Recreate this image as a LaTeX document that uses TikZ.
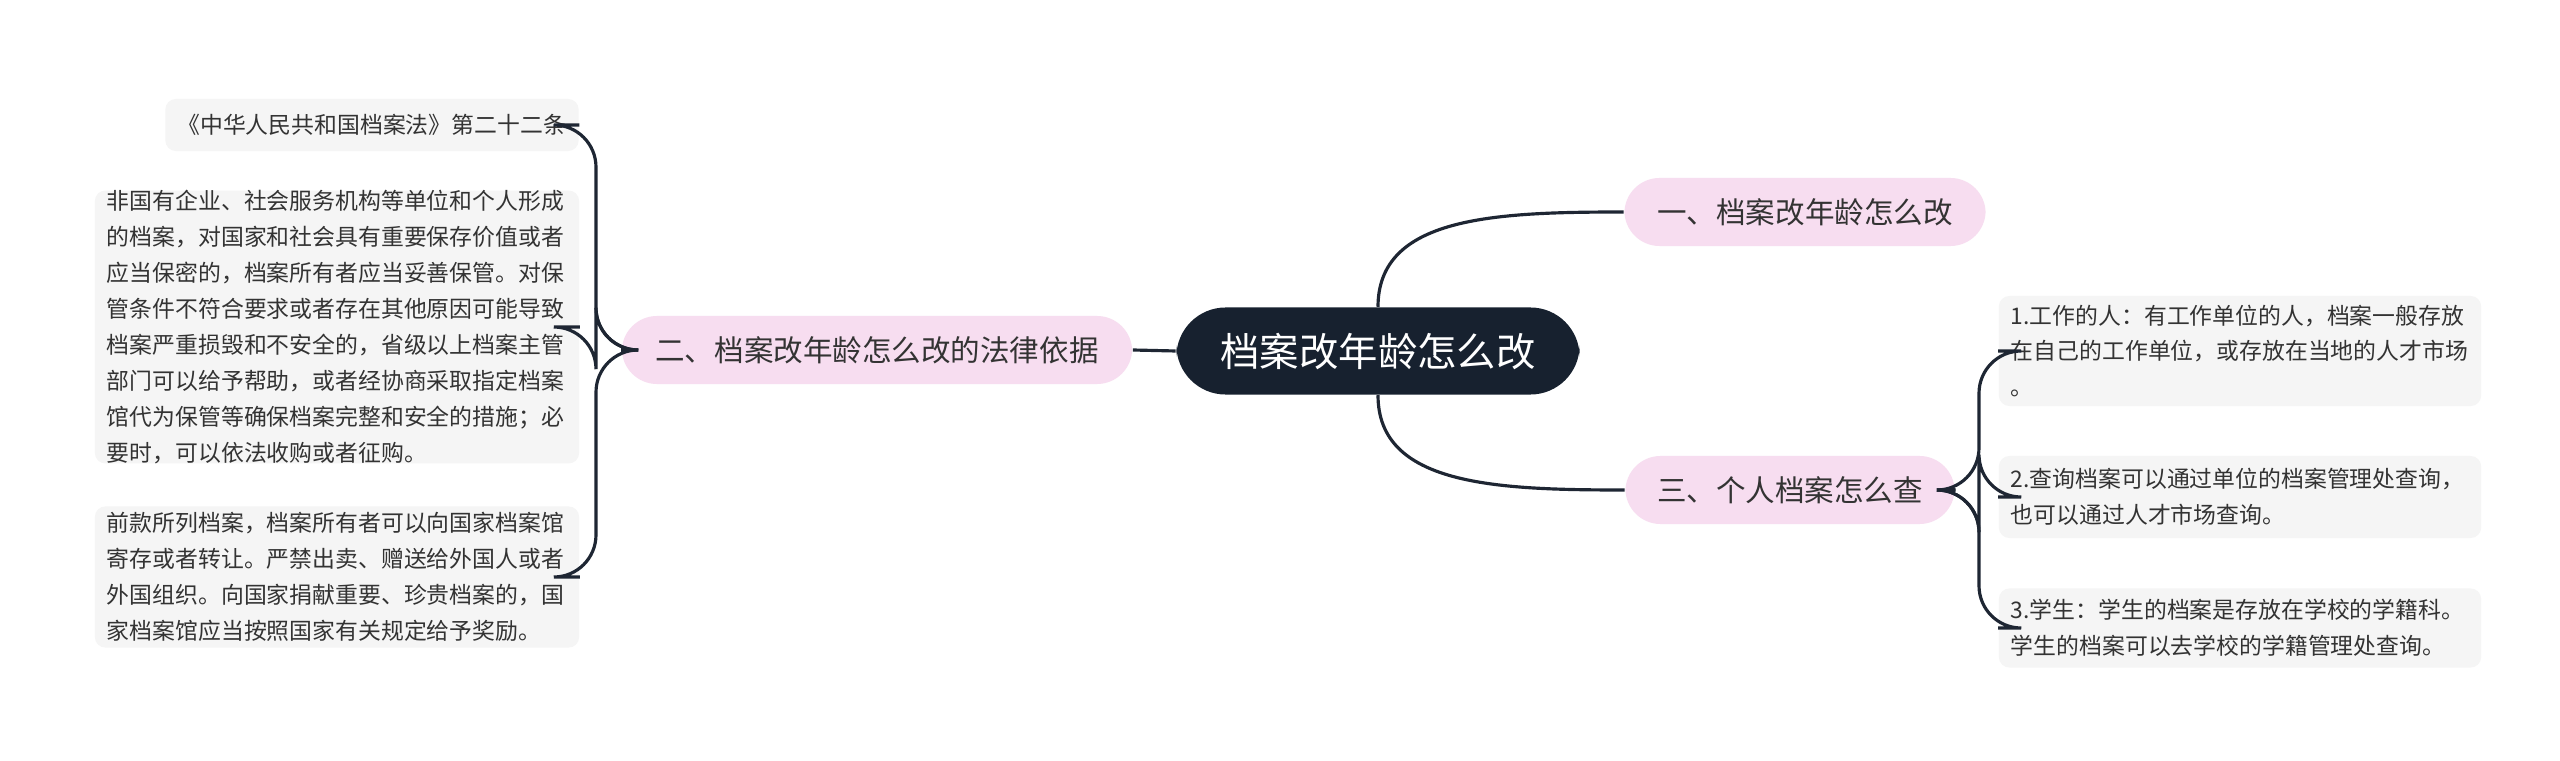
\documentclass[tikz,border=0pt]{standalone}
\usepackage{fontspec}
\setmainfont{Noto Sans CJK SC}
\begin{document}
\begin{tikzpicture}[x=0.01cm,y=-0.01cm,
  leaf/.style={fill=leafbg,rounded corners=3pt,inner xsep=0.12cm,inner ysep=0pt,align=left,font=\fontsize{6.5}{10.2}\selectfont,text=txt},
  branch/.style={fill=pinkbg,rounded corners=10pt,minimum height=0.68cm,inner xsep=0.3cm,font=\fontsize{8.4}{10}\selectfont,text=txt},
  link/.style={draw=linec,line width=0.9pt}]
\definecolor{leafbg}{HTML}{F5F5F5}
\definecolor{pinkbg}{HTML}{F7DDF0}
\definecolor{navy}{HTML}{17212F}
\definecolor{txt}{HTML}{333333}
\definecolor{linec}{HTML}{1E2633}
\useasboundingbox[fill=white] (0,0) rectangle (2560,761);
\node[fill=navy,text=white,rounded corners=14pt,minimum width=4.03cm,minimum height=0.87cm,font=\fontsize{11.2}{13}\selectfont] (c) at (1378,351) {档案改年龄怎么改};
\node[branch,minimum width=3.61cm] (b1) at (1805,212) {一、档案改年龄怎么改};
\node[branch,minimum width=3.29cm] (b3) at (1790,490) {三、个人档案怎么查};
\node[branch,minimum width=5.1cm] (b2) at (877,350) {二、档案改年龄怎么改的法律依据};
\node[leaf,text width=3.89cm,minimum height=0.52cm] (la) at (372,125) {《中华人民共和国档案法》第二十二条};
\node[leaf,text width=4.60cm,minimum height=2.6cm] (lb) at (337,327) {非国有企业、社会服务机构等单位和个人形成\\的档案，对国家和社会具有重要保存价值或者\\应当保密的，档案所有者应当妥善保管。对保\\管条件不符合要求或者存在其他原因可能导致\\档案严重损毁和不安全的，省级以上档案主管\\部门可以给予帮助，或者经协商采取指定档案\\馆代为保管等确保档案完整和安全的措施；必\\要时，可以依法收购或者征购。};
\node[leaf,text width=4.60cm,minimum height=1.41cm] (lc) at (337,577) {前款所列档案，档案所有者可以向国家档案馆\\寄存或者转让。严禁出卖、赠送给外国人或者\\外国组织。向国家捐献重要、珍贵档案的，国\\家档案馆应当按照国家有关规定给予奖励。};
\node[leaf,text width=4.58cm,minimum height=1.1cm] (r1) at (2240,351) {1.工作的人：有工作单位的人，档案一般存放\\在自己的工作单位，或存放在当地的人才市场\\。};
\node[leaf,text width=4.58cm,minimum height=0.82cm] (r2) at (2240,497) {2.查询档案可以通过单位的档案管理处查询，\\也可以通过人才市场查询。};
\node[leaf,text width=4.58cm,minimum height=0.79cm] (r3) at (2240,628) {3.学生：学生的档案是存放在学校的学籍科。\\学生的档案可以去学校的学籍管理处查询。};
\coordinate (rx) at (1979,490);
\coordinate (lx) at (596,350);
\draw[link] (c.north) .. controls +(0,-90) and +(-130,0) .. (b1.west);
\draw[link] (c.south) .. controls +(0,90) and +(-130,0) .. (b3.west);
\draw[link] (c.west) -- (b2.east);
\foreach \r in {r1,r2,r3}
  \draw[link,rounded corners=12pt] (b3.east) -- (rx) |- (\r.west);
\foreach \l in {la,lb,lc}
  \draw[link,rounded corners=12pt] (b2.west) -- (lx) |- (\l.east);
\end{tikzpicture}
\end{document}
